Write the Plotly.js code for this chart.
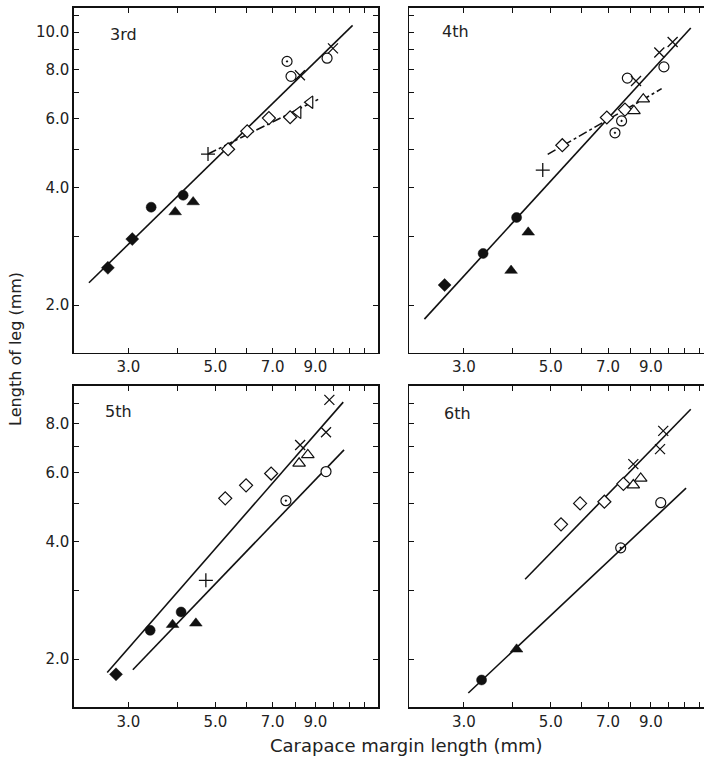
<!DOCTYPE html>
<html>
<head>
<meta charset="utf-8">
<script src="https://cdn.plot.ly/plotly-3.0.1.min.js"></script>
<style>
  html, body { margin: 0; padding: 0; background: #ffffff; }
  #chart { width: 704px; height: 762px; }
</style>
</head>
<body>
<div id="chart"></div>
<script>
// ---- Data, one entry per panel ----
const panelNames = ['3rd', '4th', '5th', '6th'];

const filledDiamondX = [[2.66, 3.07], [2.68], [2.79], []];
const filledDiamondY = [[2.49, 2.95], [2.25], [1.83], []];

const filledCircleX = [[3.43, 4.14], [3.36, 4.09], [3.41, 4.09], [3.33]];
const filledCircleY = [[3.56, 3.82], [2.71, 3.35], [2.37, 2.64], [1.77]];

const filledTriangleX = [[3.95, 4.39], [3.96, 4.38], [3.89, 4.46], [4.09]];
const filledTriangleY = [[3.46, 3.67], [2.45, 3.07], [2.45, 2.47], [2.12]];

const plusX = [[4.79], [4.77], [4.73], []];
const plusY = [[4.87], [4.43], [3.18], []];

const openDiamondX = [[5.39, 6.03, 6.85, 7.76], [5.35, 6.95, 7.73], [5.30, 5.99, 6.94], [5.31, 5.94, 6.85, 7.66]];
const openDiamondY = [[5.01, 5.57, 6.02, 6.05], [5.13, 6.04, 6.33], [5.15, 5.56, 5.96], [4.42, 5.00, 5.05, 5.61]];

const openTriangleX = [[8.13, 8.72], [8.15, 8.61], [8.18, 8.61], [8.12, 8.48]];
const openTriangleY = [[6.23, 6.61], [6.28, 6.73], [6.33, 6.65], [5.57, 5.79]];

const dotCircleX = [[7.62], [7.29, 7.58], [7.57], [7.54]];
const dotCircleY = [[8.41], [5.52, 5.92], [5.08], [3.85]];

const openCircleX = [[7.80, 9.64], [7.84, 9.72], [9.58], [9.54]];
const openCircleY = [[7.70, 8.57], [7.62, 8.14], [6.03], [5.02]];

const crossX = [[8.22, 9.98], [8.25, 9.46, 10.23], [8.23, 9.58, 9.77], [8.12, 9.50, 9.68]];
const crossY = [[7.75, 9.08], [7.49, 8.86, 9.43], [7.05, 7.60, 9.19], [6.30, 6.88, 7.66]];

// fitted lines (end points, in data units)
const solidLineX = [[2.38, 11.2], [2.38, 11.38], [2.65, 10.6], [4.30, 11.38]];
const solidLineY = [[2.28, 10.4], [1.84, 10.24], [1.85, 9.07], [3.20, 8.70]];
const lowerLineX = [[], [], [3.08, 10.65], [3.08, 11.07]];
const lowerLineY = [[], [], [1.88, 6.85], [1.64, 5.47]];
const dashLineX = [[4.79, 9.25], [4.91, 9.59], [], []];
const dashLineY = [[4.87, 6.76], [4.86, 7.16], [], []];

// tick values / labels
const xTickVals = [2, 3, 4, 5, 6, 7, 8, 9, 10, 11, 12];
const xTickText = ['', '3.0', '', '5.0', '', '7.0', '', '9.0', '', '', ''];
const yTickValsTop = [2, 3, 4, 5, 6, 7, 8, 9, 10, 11];
const yTickTextTop = ['2.0', '', '4.0', '', '6.0', '', '8.0', '', '10.0', ''];
const yTickValsBottom = [2, 3, 4, 5, 6, 7, 8, 9];
const yTickTextBottom = ['2.0', '', '4.0', '', '6.0', '', '8.0', ''];

// ---- Build traces ----
const INK = '#111111';
const traces = [];
const axisSuffix = ['', '2', '3', '4'];

for (let p = 0; p < 4; p++) {
  const xa = 'x' + axisSuffix[p];
  const ya = 'y' + axisSuffix[p];
  const addLine = (xs, ys, dash) => {
    if (!xs.length) return;
    traces.push({x: xs, y: ys, xaxis: xa, yaxis: ya, mode: 'lines', hoverinfo: 'skip',
      line: {color: INK, width: 1.6, dash: dash}});
  };
  addLine(solidLineX[p], solidLineY[p], 'solid');
  addLine(lowerLineX[p], lowerLineY[p], 'solid');
  addLine(dashLineX[p], dashLineY[p], '9px,3px,3px,3px');

  const addPts = (xs, ys, symbol, size, fill, lw) => {
    if (!xs.length) return;
    traces.push({x: xs, y: ys, xaxis: xa, yaxis: ya, mode: 'markers', hoverinfo: 'skip',
      marker: {symbol: symbol, size: size, color: fill, line: {color: INK, width: lw}}});
  };
  addPts(filledDiamondX[p], filledDiamondY[p], 'diamond', 10, INK, 0.5);
  addPts(filledCircleX[p], filledCircleY[p], 'circle', 10, INK, 0.5);
  addPts(filledTriangleX[p], filledTriangleY[p], 'triangle-up', 11, INK, 0.5);
  addPts(plusX[p], plusY[p], 'cross-thin', 10, INK, 1.3);
  addPts(openDiamondX[p], openDiamondY[p], 'diamond', 10, '#ffffff', 1.2);
  addPts(openTriangleX[p], openTriangleY[p], p === 0 ? 'triangle-left' : 'triangle-up', 11, '#ffffff', 1.2);
  addPts(openCircleX[p], openCircleY[p], 'circle', 10, '#ffffff', 1.2);
  addPts(dotCircleX[p], dotCircleY[p], 'circle-open-dot', 10, INK, 1.2);
  addPts(crossX[p], crossY[p], 'x-thin', 10, INK, 1.3);
}

// ---- Layout ----
const tickFont = {family: 'DejaVu Sans, sans-serif', size: 15, color: '#222222'};
const xRangeLeft = [Math.log10(2.18), Math.log10(13.0)];
const xRangeRight = [Math.log10(2.18), Math.log10(12.3)];
const yRangeTop = [Math.log10(1.51), Math.log10(11.52)];
const yRangeBottom = [Math.log10(1.51), Math.log10(10.0)];

function xAxis(domain, anchor, range) {
  return {type: 'log', domain: domain, anchor: anchor, range: range,
    tickmode: 'array', tickvals: xTickVals, ticktext: xTickText,
    ticks: 'inside', ticklen: 5, tickwidth: 1, tickcolor: INK,
    showline: true, linecolor: INK, linewidth: 1.6, mirror: 'ticks',
    showgrid: false, zeroline: false, tickfont: tickFont, tickangle: 0};
}
function yAxis(domain, anchor, range, vals, text, showLabels, mirror) {
  return {type: 'log', domain: domain, anchor: anchor, range: range,
    tickmode: 'array', tickvals: vals, ticktext: text,
    ticks: 'inside', ticklen: 5, tickwidth: 1, tickcolor: INK,
    showline: true, linecolor: INK, linewidth: 1.6, mirror: mirror,
    showgrid: false, zeroline: false, tickfont: tickFont,
    showticklabels: showLabels, ticklabelstandoff: 0};
}

const dxL = [0, 0.4825], dxR = [0.5325, 1];
const dyT = [0.5069, 1], dyB = [0, 0.4599];

const annFont = {family: 'DejaVu Sans, sans-serif', size: 16, color: '#222222'};
const panelLabelPos = [[0.054, 0.962], [0.581, 0.967], [0.046, 0.423], [0.584, 0.420]];
const annotations = panelNames.map((t, i) => ({
  text: t, xref: 'paper', yref: 'paper', x: panelLabelPos[i][0], y: panelLabelPos[i][1],
  xanchor: 'left', yanchor: 'middle', showarrow: false, font: annFont}));
annotations.push({text: 'Length of leg (mm)', xref: 'paper', yref: 'paper',
  x: -0.094, y: 0.512, textangle: -90, xanchor: 'center', yanchor: 'middle',
  showarrow: false, font: {family: 'DejaVu Sans, sans-serif', size: 16, color: '#222222'}});
annotations.push({text: 'Carapace margin length (mm)', xref: 'paper', yref: 'paper',
  x: 0.527, y: -0.055, xanchor: 'center', yanchor: 'middle',
  showarrow: false, font: {family: 'DejaVu Sans, sans-serif', size: 18, color: '#222222'}});

const layout = {
  width: 704, height: 762,
  margin: {l: 74, r: 0, t: 8, b: 55, pad: 0},
  paper_bgcolor: '#ffffff', plot_bgcolor: '#ffffff',
  showlegend: false,
  xaxis: xAxis(dxL, 'y', xRangeLeft),
  yaxis: yAxis(dyT, 'x', yRangeTop, yTickValsTop, yTickTextTop, true, 'ticks'),
  xaxis2: xAxis(dxR, 'y2', xRangeRight),
  yaxis2: yAxis(dyT, 'x2', yRangeTop, yTickValsTop, yTickTextTop, false, false),
  xaxis3: xAxis(dxL, 'y3', xRangeLeft),
  yaxis3: yAxis(dyB, 'x3', yRangeBottom, yTickValsBottom, yTickTextBottom, true, 'ticks'),
  xaxis4: xAxis(dxR, 'y4', xRangeRight),
  yaxis4: yAxis(dyB, 'x4', yRangeBottom, yTickValsBottom, yTickTextBottom, false, false),
  annotations: annotations
};

Plotly.newPlot('chart', traces, layout, {staticPlot: true, displayModeBar: false});
</script>
</body>
</html>
